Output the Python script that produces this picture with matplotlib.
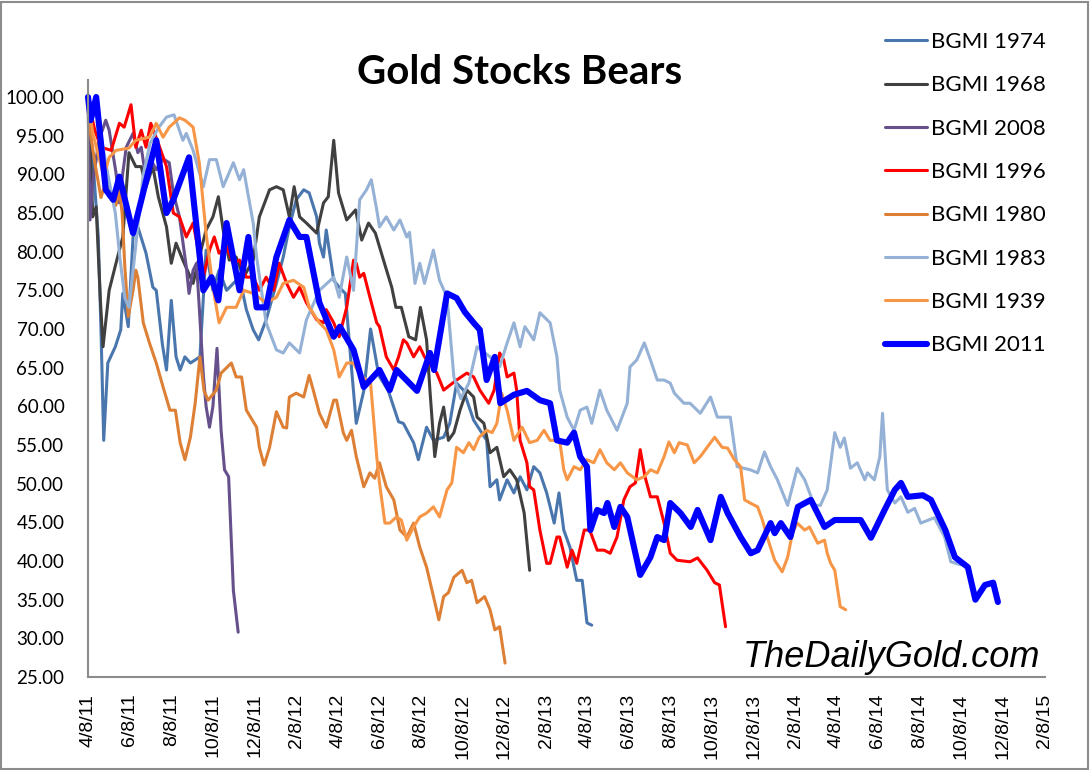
import numpy as np
import matplotlib
matplotlib.use("Agg")
import matplotlib.pyplot as plt
from matplotlib.patches import Rectangle

START = np.datetime64("2011-04-08")

# ---- data: days since start of each bear market, index (start = 100) ----
d1974 = [0, 7, 15, 19, 23, 29, 40, 48, 51, 59, 66, 73, 85, 95, 100, 109, 115, 122, 129, 135, 142, 150, 157, 164,
         173, 183, 192, 203, 213, 222, 232, 242, 250, 261, 276, 286, 295, 305, 316, 324, 335, 339, 345, 349, 360,
         368, 377, 385, 393, 404, 414, 426, 440, 455, 462, 477, 484, 496, 506, 521, 530, 540, 550, 565, 584, 589,
         599, 603, 614, 624, 633, 643, 653, 662, 672, 683, 690, 697, 706, 716, 724, 731, 738]
v1974 = [100, 92, 82, 70, 55.6, 65.6, 67.7, 69.9, 74.6, 70.3, 81.9, 83.2, 79.8, 75.4, 75, 68, 64.7, 73.7, 66.4, 64.7,
         66.4, 65.6, 66, 66.4, 80.2, 75, 77.6, 75, 75.9, 76.7, 72.5, 69.9, 68.6, 71.2, 75.9, 79.3, 83.2, 86.7, 88,
         87.6, 84.5, 81.1, 79.3, 82.8, 76.3, 75.4, 74.6, 66, 57.8, 62, 70, 64, 62, 58, 57.8, 55.3, 53.1, 57.3, 55.6,
         56, 57.8, 63, 62.1, 58.2, 55.6, 49.6, 50.5, 47.9, 50.5, 48.8, 50.9, 49.2, 52.2, 51.4, 48.8, 44.9, 48.8, 44,
         41.8, 37.5, 37.5, 32, 31.7]

d1968 = [0, 4, 7, 12, 18, 22, 31, 41, 51, 60, 70, 78, 85, 95, 103, 115, 122, 129, 139, 154, 163, 173, 183, 191, 198,
         207, 217, 228, 242, 251, 266, 276, 286, 295, 302, 310, 320, 335, 345, 352, 360, 367, 379, 392, 401, 411,
         421, 436, 445, 451, 459, 470, 480, 487, 496, 501, 508, 515, 521, 528, 536, 545, 555, 565, 570, 580, 589,
         599, 609, 618, 628, 639, 647]
v1968 = [100, 92, 84.5, 85.8, 74, 67.7, 75, 78.5, 81.9, 92.8, 91, 91, 88.4, 91, 87.1, 83.2, 78.5, 81.1, 78.9, 75.9,
         79.3, 82.8, 84.5, 87.1, 82.8, 78.9, 79.3, 76.7, 78.9, 84.5, 88, 88.4, 88, 84.5, 88.4, 84.5, 83.7, 82.4, 86.3,
         87.1, 94.4, 87.6, 84.1, 85.4, 81.5, 83.7, 82.4, 78, 75.4, 72.8, 72.8, 69, 68.6, 72.8, 68.6, 62, 53.5, 57.8,
         59.9, 55.6, 56.6, 59.5, 62.1, 61.2, 58.6, 57.8, 54, 54.7, 50.9, 51.8, 50.5, 46.2, 38.8]

d2008 = [0, 3, 7, 16, 26, 31, 41, 46, 51, 56, 66, 73, 78, 85, 92, 100, 110, 119, 125, 134, 144, 148, 154, 159, 163,
         169, 173, 178, 183, 189, 195, 200, 206, 213, 220]
v2008 = [100, 84.1, 88.9, 94.4, 97, 95.7, 90.2, 86.3, 90.2, 93.5, 95.3, 92.8, 93.5, 89.3, 91.9, 90.6, 92, 91.5, 87.6,
         84.5, 78, 74.6, 77.6, 78.5, 72.8, 64, 60, 57.3, 60, 67.5, 56.9, 51.8, 50.9, 36.2, 30.8]

d1996 = [0, 4, 10, 19, 34, 46, 53, 63, 70, 78, 85, 92, 103, 115, 125, 134, 144, 154, 169, 178, 185, 192, 203, 213,
         222, 232, 242, 251, 261, 272, 280, 291, 301, 310, 320, 335, 345, 349, 360, 368, 379, 389, 393, 398, 404,
         413, 423, 427, 437, 448, 455, 462, 467, 477, 486, 493, 511, 521, 540, 555, 565, 574, 587, 595, 603, 609,
         614, 624, 628, 633, 643, 647, 653, 662, 672, 677, 687, 691, 702, 709, 716, 727, 735, 746, 756, 765, 775,
         785, 794, 802, 809, 816, 824, 834, 844, 853, 863, 882, 893, 907, 918, 925, 934]
v1996 = [100, 98, 95.7, 93.5, 93.1, 96.6, 96.1, 99, 93.5, 95.7, 93.5, 96.6, 94, 91, 85, 84.5, 81.9, 83.7, 76.7, 80.2,
         81.9, 79.8, 80.6, 78.5, 78.9, 76.7, 76.7, 75, 76.7, 75, 78.5, 75.9, 74.1, 75.4, 73.4, 71.2, 70.8, 72.5, 70.8,
         69, 72.8, 78.9, 78.5, 76.7, 77.2, 74.1, 70.8, 70.3, 66.4, 64.7, 66.4, 68.6, 68.2, 66.4, 67.7, 66.4, 64.3,
         62.1, 63.4, 64.3, 63.8, 62.1, 60.4, 62.1, 66.9, 66, 63.8, 64.3, 62.1, 55.6, 52.7, 49.6, 49.2, 44, 39.7, 39.7,
         43.1, 43.1, 39.2, 41.4, 39.7, 44, 44, 41.4, 41.4, 41, 43.1, 47.9, 49.6, 50.1, 54.4, 50.9, 48.3, 48.3, 44.9,
         41, 40.1, 39.9, 40.4, 38.8, 37.2, 36.9, 31.5]

d1980 = [0, 4, 10, 19, 26, 34, 41, 46, 50, 54, 59, 66, 70, 73, 81, 90, 100, 110, 120, 128, 135, 142, 150, 157, 164,
         170, 176, 188, 195, 210, 217, 225, 232, 247, 251, 258, 266, 276, 286, 291, 295, 305, 316, 324, 330, 339,
         349, 360, 364, 374, 379, 386, 393, 404, 413, 420, 427, 437, 448, 457, 467, 477, 486, 496, 504, 514, 521,
         528, 536, 548, 555, 562, 570, 581, 589, 596, 603, 611]
v1980 = [100, 95, 91.5, 87, 89, 87, 86, 88, 85, 78, 71.6, 75, 77.6, 76.7, 70.8, 68.2, 65.6, 62.5, 59.5, 59.5, 55.3,
         53.1, 56, 60.4, 66.4, 62, 60.8, 62.1, 64.3, 65.6, 63.8, 63.8, 59.5, 57.3, 54.7, 52.4, 54.7, 59.3, 57.3, 57.2,
         61.2, 61.7, 61.2, 64, 62.1, 59.1, 57.3, 60.8, 60.8, 56.6, 55.6, 56.9, 53.5, 49.6, 51.4, 50.7, 52.7, 49.6,
         47.9, 44, 43.1, 44.9, 41.8, 39.2, 36.2, 32.4, 35.4, 35.9, 37.9, 38.8, 37.2, 37.5, 34.6, 35.4, 33.7, 31.1,
         31.5, 26.8]

d1983 = [0, 15, 29, 40, 47, 54, 60, 69, 81, 91, 103, 115, 126, 139, 144, 154, 169, 178, 188, 198, 213, 222, 228,
         242, 247, 261, 276, 286, 295, 310, 320, 339, 360, 368, 379, 389, 398, 408, 415, 423, 427, 437, 448, 457,
         467, 471, 479, 486, 493, 506, 515, 526, 536, 546, 558, 570, 589, 603, 614, 624, 633, 640, 653, 662, 677,
         687, 691, 702, 712, 721, 731, 738, 750, 760, 775, 790, 794, 804, 815, 824, 834, 844, 853, 859, 873, 882,
         897, 912, 922, 941, 951, 970, 981, 991, 1000, 1010, 1025, 1039, 1050, 1064, 1073, 1083, 1094, 1102, 1108,
         1117, 1127, 1138, 1142, 1152, 1160, 1164, 1171, 1182, 1191, 1201, 1211, 1220, 1240, 1255, 1264, 1279]
v1983 = [100, 97, 90, 85, 79, 74, 72.8, 80, 90, 94, 96, 97.4, 97.7, 94.4, 95.3, 93.1, 88.4, 91.9, 91.9, 88.4, 91.5,
         89.3, 90.6, 83.7, 79.3, 70.8, 67.3, 66.9, 68.2, 66.9, 71.2, 75, 76.7, 74.1, 79.3, 75, 86.7, 88, 89.3, 85.4,
         83.2, 84.5, 82.8, 84.1, 81.9, 82.5, 75.9, 78.5, 75.9, 80.2, 76.3, 74.1, 63.8, 61, 63, 67.7, 66.4, 65.1, 68.2,
         70.8, 67.7, 70.3, 68.6, 72.1, 70.8, 66.4, 62.1, 58.6, 56.9, 59.5, 59.9, 57.8, 62.1, 59.5, 56.9, 60.4, 65.1,
         66, 68.2, 66, 63.4, 63.4, 63, 61.7, 60.4, 60.4, 59.1, 61.2, 58.6, 58.6, 52.2, 51.8, 51.4, 54.1, 52.2, 50.5,
         47.2, 52, 50.5, 47.2, 47.2, 49.2, 56.6, 54.7, 55.9, 52, 52.7, 50.5, 51.4, 50.5, 53.5, 59.1, 49.2, 47.5, 48.3,
         46.3, 46.8, 44.9, 45.6, 43.1, 39.9, 39.5]

d1939 = [0, 7, 16, 23, 31, 41, 60, 70, 90, 100, 110, 119, 134, 142, 154, 163, 173, 183, 192, 203, 217, 228, 242, 261,
         276, 286, 301, 316, 324, 339, 349, 360, 368, 379, 389, 399, 414, 423, 427, 435, 442, 452, 459, 467, 477,
         486, 496, 506, 515, 526, 533, 540, 550, 558, 565, 573, 584, 592, 599, 606, 614, 624, 636, 647, 658, 668,
         677, 691, 697, 702, 712, 721, 731, 741, 750, 760, 771, 780, 790, 804, 815, 824, 834, 844, 851, 859, 866,
         878, 888, 897, 907, 918, 929, 937, 947, 956, 962, 970, 981, 988, 995, 1006, 1017, 1025, 1032, 1039, 1050,
         1057, 1069, 1079, 1083, 1088, 1094, 1102, 1110]
v1939 = [100, 95.3, 92.2, 89.7, 92.2, 93.1, 93.4, 94.4, 94.8, 96.6, 94.8, 96.1, 97.3, 97, 96.1, 91.5, 82.4, 75.4, 70.8,
         72.8, 72.8, 75, 74.6, 73.4, 74.1, 75.9, 76.3, 75.4, 72.8, 70.8, 69.9, 67.3, 63.8, 65.6, 65.6, 64, 63, 53.5,
         50.1, 44.9, 44.9, 45.7, 45.3, 42.7, 44.4, 45.7, 46.2, 47, 45.7, 49.2, 50.1, 54.7, 54, 55.3, 54.4, 56, 56.9,
         56.6, 57.8, 61.7, 59.5, 55.6, 57.3, 55.3, 55.6, 56.9, 55.6, 55.6, 51.8, 50.5, 52.2, 51.8, 53.1, 52.7, 54.4,
         52.7, 51.8, 52.7, 51.4, 50.5, 50.9, 51.8, 51.4, 53.5, 55.4, 54, 55.3, 55, 52.7, 53.5, 54.7, 56, 54.7, 54.6,
         53.1, 52.2, 47.9, 47.5, 47, 45.3, 43.1, 40.1, 38.6, 40.5, 43.6, 44.9, 44, 44.4, 42.3, 42.7, 41, 39.7, 38.8,
         34.1, 33.7]

d2011 = [0, 4, 12, 26, 37, 46, 66, 100, 115, 125, 148, 169, 181, 191, 203, 222, 235, 247, 261, 276, 295, 310, 320,
         339, 360, 369, 389, 404, 427, 442, 452, 482, 501, 507, 526, 540, 552, 565, 574, 584, 596, 604, 624, 643,
         662, 677, 687, 702, 712, 721, 731, 736, 746, 756, 761, 771, 780, 790, 809, 824, 834, 844, 853, 868, 883,
         893, 912, 927, 937, 956, 971, 981, 1000, 1006, 1015, 1029, 1040, 1059, 1079, 1094, 1113, 1132, 1147, 1167,
         1182, 1191, 1201, 1223, 1235, 1256, 1270, 1289, 1300, 1314, 1326, 1333]
v2011 = [100, 97, 100, 88, 86.7, 89.7, 82.4, 94.4, 85, 86.7, 92.2, 75, 76.7, 73.7, 83.7, 75, 81.9, 72.8, 72.8, 79.3,
         84.1, 81.9, 81.9, 73.4, 69, 70.3, 67.3, 62.5, 64.7, 62.1, 64.7, 62, 66.9, 64.7, 74.6, 74, 72.2, 70.8, 69.9,
         63.4, 66.4, 60.4, 61.5, 62, 60.8, 60.4, 55.6, 55.3, 56.6, 53.5, 52.2, 44, 46.6, 46.2, 47.5, 44.4, 47, 45.7,
         38.2, 40.5, 43.1, 42.7, 47.5, 46.2, 44.4, 46.6, 42.7, 48.3, 46.2, 43.1, 41, 41.4, 44.9, 43.6, 44.9, 43.1, 47,
         47.9, 44.4, 45.3, 45.3, 45.3, 43, 46.6, 49.2, 50.1, 48.3, 48.5, 47.9, 44, 40.5, 39.2, 35, 36.9, 37.2, 34.7]

series_names = ["BGMI 1974", "BGMI 1968", "BGMI 2008", "BGMI 1996", "BGMI 1980", "BGMI 1983", "BGMI 1939", "BGMI 2011"]
series_days = [d1974, d1968, d2008, d1996, d1980, d1983, d1939, d2011]
series_vals = [v1974, v1968, v2008, v1996, v1980, v1983, v1939, v2011]
series_colors = ["#4A76AE", "#404040", "#65508C", "#FF0000", "#DD8035", "#95B1D6", "#F79646", "#0000FF"]
series_widths = [2.2, 2.2, 2.2, 2.2, 2.2, 2.2, 2.2, 4.4]

tick_dates = ["2011-04-08", "2011-06-08", "2011-08-08", "2011-10-08", "2011-12-08", "2012-02-08", "2012-04-08",
              "2012-06-08", "2012-08-08", "2012-10-08", "2012-12-08", "2013-02-08", "2013-04-08", "2013-06-08",
              "2013-08-08", "2013-10-08", "2013-12-08", "2014-02-08", "2014-04-08", "2014-06-08", "2014-08-08",
              "2014-10-08", "2014-12-08", "2015-02-08"]
tick_labels = ["4/8/11", "6/8/11", "8/8/11", "10/8/11", "12/8/11", "2/8/12", "4/8/12", "6/8/12", "8/8/12",
               "10/8/12", "12/8/12", "2/8/13", "4/8/13", "6/8/13", "8/8/13", "10/8/13", "12/8/13", "2/8/14",
               "4/8/14", "6/8/14", "8/8/14", "10/8/14", "12/8/14", "2/8/15"]
y_ticks = [25, 30, 35, 40, 45, 50, 55, 60, 65, 70, 75, 80, 85, 90, 95, 100]

W, H = 1090, 770
Y_TOP_PX, Y_BOT_PX = 80, 677
PX_PER_UNIT = (677 - 97) / 75.0
fig = plt.figure(figsize=(W / 100, H / 100), dpi=100)
fig.patch.set_facecolor("white")
fig.add_artist(Rectangle((1 / W, 1 / H), 1 - 3 / W, 1 - 3 / H, transform=fig.transFigure,
                         fill=False, edgecolor="#8C8C8C", linewidth=1.5))

ax = fig.add_axes([88 / W, 1 - Y_BOT_PX / H, (1045 - 88) / W, (Y_BOT_PX - Y_TOP_PX) / H])
for name, dd, vv, c, lw in zip(series_names, series_days, series_vals, series_colors, series_widths):
    x = START + np.array(dd, dtype="timedelta64[D]")
    ax.plot(x, vv, color=c, lw=lw, label=name, clip_on=False,
            solid_joinstyle="round", solid_capstyle="round")

ax.set_xlim(np.datetime64(tick_dates[0]), np.datetime64(tick_dates[-1]))
ax.set_ylim(25, 25 + (Y_BOT_PX - Y_TOP_PX) / PX_PER_UNIT)
ax.set_xticks([np.datetime64(t) for t in tick_dates])
ax.set_xticklabels(tick_labels, rotation=90, family="Liberation Sans", fontsize=14)
ax.set_yticks(y_ticks)
ax.set_yticklabels([f"{t:.2f}" for t in y_ticks], family="Lato", fontsize=13.5)
ax.tick_params(axis="both", length=0, colors="black")
ax.tick_params(axis="y", pad=17)
ax.tick_params(axis="x", pad=12)
for s in ["top", "right"]:
    ax.spines[s].set_visible(False)
for s in ["left", "bottom"]:
    ax.spines[s].set_color("#8C8C8C")
    ax.spines[s].set_linewidth(1.5)

leg = fig.legend(loc="upper left", bbox_to_anchor=(885 / W, 1 - 32 / H), frameon=False,
                 prop={"family": "Lato", "size": 16}, handlelength=1.9, handletextpad=0.15,
                 labelspacing=1.05, borderaxespad=0, borderpad=0)

fig.text(520 / W, 1 - 84 / H, "Gold Stocks Bears", ha="center", va="baseline",
         family="Lato", fontweight="bold", fontsize=29)
fig.text(1040 / W, 1 - 667 / H, "TheDailyGold.com", ha="right", va="baseline",
         family="Liberation Sans", style="italic", fontsize=26)

fig.savefig("out.png", dpi=100)
